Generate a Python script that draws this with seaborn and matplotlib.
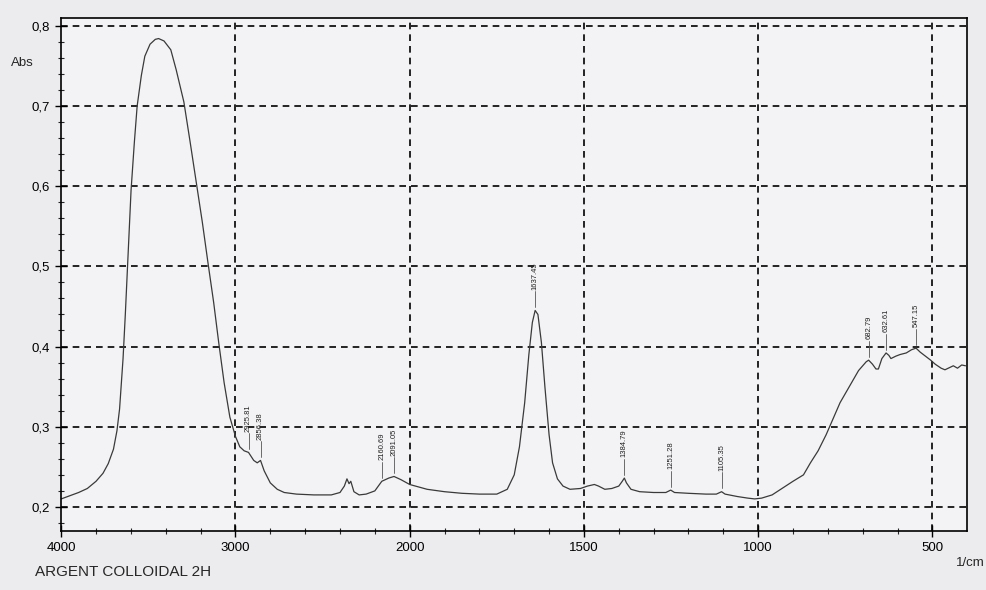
import numpy as np
import pandas as pd
import matplotlib
matplotlib.use('Agg')
import matplotlib.pyplot as plt
import seaborn as sns

# Spectrum (wavenumber in 1/cm, absorbance)
wavenumber = [4000, 3950, 3900, 3850, 3800, 3760, 3730, 3700, 3680, 3665,
              3645, 3632, 3615, 3599, 3580, 3564, 3540, 3520, 3490, 3460,
              3441, 3410, 3371, 3340, 3296, 3260, 3225, 3190, 3158, 3125,
              3096, 3065, 3032, 3000, 2975, 2950, 2925, 2895, 2875, 2856,
              2835, 2800, 2760, 2720, 2650, 2550, 2450, 2400, 2375, 2360,
              2348, 2338, 2320, 2290, 2250, 2200, 2160, 2120, 2090, 2050,
              2000, 1950, 1900, 1850, 1800, 1750, 1720, 1700, 1685, 1670,
              1658, 1648, 1640, 1632, 1622, 1612, 1600, 1590, 1576, 1560,
              1540, 1510, 1490, 1470, 1458, 1440, 1420, 1400, 1390, 1384,
              1378, 1365, 1340, 1300, 1265, 1251, 1240, 1200, 1150, 1120,
              1105, 1095, 1060, 1030, 1010, 990, 960, 925, 900, 870,
              850, 828, 805, 785, 765, 745, 725, 712, 700, 690,
              683, 672, 662, 655, 645, 633, 625, 619, 605, 593,
              575, 560, 547, 535, 523, 505, 492, 475, 464, 450,
              440, 428, 416, 405]
absorbance = [0.210, 0.214, 0.218, 0.223, 0.232, 0.242, 0.254, 0.272, 0.295, 0.322,
              0.385, 0.440, 0.520, 0.595, 0.655, 0.700, 0.738, 0.762, 0.777, 0.783,
              0.784, 0.781, 0.770, 0.745, 0.705, 0.655, 0.605, 0.555, 0.505, 0.455,
              0.405, 0.355, 0.312, 0.288, 0.275, 0.270, 0.268, 0.258, 0.255, 0.258,
              0.245, 0.230, 0.222, 0.218, 0.216, 0.215, 0.215, 0.218, 0.226, 0.235,
              0.229, 0.232, 0.219, 0.215, 0.216, 0.220, 0.232, 0.236, 0.238, 0.234,
              0.228, 0.222, 0.219, 0.217, 0.216, 0.216, 0.222, 0.240, 0.275, 0.330,
              0.390, 0.430, 0.445, 0.440, 0.405, 0.350, 0.290, 0.255, 0.235, 0.226,
              0.222, 0.223, 0.226, 0.228, 0.226, 0.222, 0.223, 0.226, 0.232, 0.236,
              0.230, 0.222, 0.219, 0.218, 0.218, 0.221, 0.218, 0.217, 0.216, 0.216,
              0.219, 0.216, 0.213, 0.211, 0.210, 0.211, 0.215, 0.225, 0.232, 0.240,
              0.255, 0.270, 0.290, 0.310, 0.330, 0.345, 0.360, 0.370, 0.376, 0.381,
              0.383, 0.378, 0.372, 0.372, 0.385, 0.392, 0.389, 0.385, 0.388, 0.390,
              0.392, 0.396, 0.398, 0.393, 0.389, 0.383, 0.378, 0.373, 0.371, 0.374,
              0.376, 0.373, 0.377, 0.376]

# Peak picks printed on the chart
peak_labels = ['2925.81', '2856.38', '2160.69', '2091.05', '1637.45', '1384.79',
               '1251.28', '1105.35', '682.79', '632.61', '547.15']
peak_wn = [2925, 2856, 2160, 2090, 1640, 1384, 1251, 1105, 683, 633, 547]
peak_abs = [0.268, 0.258, 0.232, 0.238, 0.445, 0.236, 0.221, 0.219, 0.383, 0.392, 0.398]

x_major = [4000, 3000, 2000, 1500, 1000, 500]
y_major = [0.2, 0.3, 0.4, 0.5, 0.6, 0.7, 0.8]
y_labels = ['0,2', '0,3', '0,4', '0,5', '0,6', '0,7', '0,8']


def forward(w):
    # chart is expanded x2 below 2000 1/cm
    w = np.asarray(w, dtype=float)
    return np.where(w <= 2000, w / 500.0, 4.0 + (w - 2000.0) / 1000.0)


def inverse(u):
    u = np.asarray(u, dtype=float)
    return np.where(u <= 4, u * 500.0, 2000.0 + (u - 4.0) * 1000.0)


def main():
    sns.set_style("white")
    plt.rcParams['font.family'] = ['Liberation Sans', 'DejaVu Sans']

    data = pd.DataFrame({'Wavenumber': wavenumber, 'Abs': absorbance})

    fig = plt.figure(figsize=(9.87, 5.9), dpi=100, facecolor='#ececee')
    ax = fig.add_axes([0.062, 0.1, 0.918, 0.87])
    ax.set_facecolor('#f3f3f5')
    ax.set_xscale('function', functions=(forward, inverse))

    sns.lineplot(data=data, x='Wavenumber', y='Abs', ax=ax, sort=False,
                 estimator=None, color='#3a3a3a', linewidth=0.9)

    ax.set_xlim(4000, 400)
    ax.set_ylim(0.17, 0.81)

    # dashed chart grid
    for w in x_major[1:]:
        ax.axvline(w, color='black', linestyle=(0, (4, 3)), linewidth=1.2, zorder=1)
    for a in y_major:
        ax.axhline(a, color='black', linestyle=(0, (4, 3)), linewidth=1.2, zorder=1)

    # peak markers
    for lab, w, a in zip(peak_labels, peak_wn, peak_abs):
        ax.plot([w, w], [a + 0.004, a + 0.024], color='#555555', linewidth=0.6)
        ax.text(w, a + 0.026, lab, rotation=90, ha='center', va='bottom',
                fontsize=5.5, color='#222222')

    ax.set_xticks(x_major)
    ax.set_xticklabels([str(v) for v in x_major])
    minor_x = [v for v in list(range(3800, 2000, -200)) + list(range(1900, 400, -100))
               if v not in x_major]
    ax.set_xticks(minor_x, minor=True)
    ax.set_yticks(y_major)
    ax.set_yticklabels(y_labels)
    ax.set_yticks(np.arange(0.18, 0.81, 0.02), minor=True)
    ax.tick_params(axis='both', which='major', direction='inout', length=9,
                   width=1.0, labelsize=9.5, colors='black')
    ax.tick_params(axis='both', which='minor', direction='inout', length=5, width=0.8)
    ax.tick_params(axis='x', which='both', bottom=True, top=False)
    ax.tick_params(axis='y', which='both', left=True, right=False)

    for spine in ax.spines.values():
        spine.set_color('black')
        spine.set_linewidth(1.2)

    ax.set_xlabel('')
    ax.set_ylabel('')
    ax.text(-0.055, 0.905, 'Abs', transform=ax.transAxes, fontsize=9.5, ha='left')
    fig.text(0.035, 0.03, 'ARGENT COLLOIDAL 2H', fontsize=11, ha='left', va='center')
    fig.text(0.998, 0.045, '1/cm', fontsize=9.5, ha='right', va='center')

    fig.savefig('out.png', dpi=100, facecolor=fig.get_facecolor())


if __name__ == '__main__':
    main()
